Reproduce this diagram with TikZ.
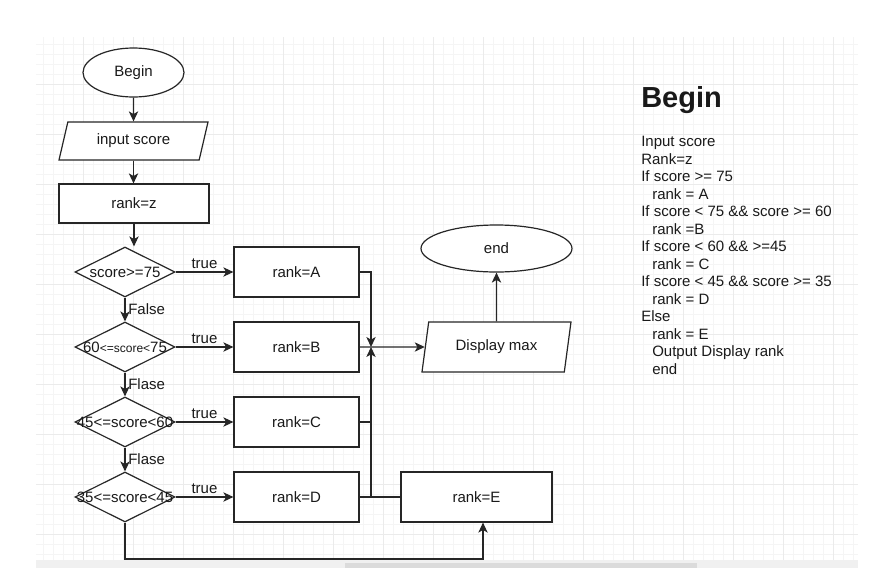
\documentclass[tikz,border=0pt]{standalone}
\usepackage{fontspec}
\setmainfont{Liberation Sans}
\usetikzlibrary{shapes.geometric,arrows.meta}

\tikzset{
  every node/.style={font=\fontsize{11.25}{13.5}\selectfont, text=black!90},
  gridminor/.style={draw=black!4, line width=0.75pt},
  gridmajor/.style={draw=black!8, line width=0.75pt},
  flowline/.style={draw=black!85, line width=0.9pt},
  arr/.style={flowline, -{Stealth[length=7.5pt,width=7pt,inset=2pt]}},
  terminal/.style={ellipse, draw=black!85, line width=0.9pt, fill=white, inner sep=0pt},
  io/.style={trapezium, trapezium stretches body=true, draw=black!85, line width=0.9pt, fill=white, inner sep=0pt},
  process/.style={rectangle, draw=black!85, line width=0.9pt, fill=white, inner sep=0pt, minimum width=93.75pt, minimum height=37.5pt},
  decision/.style={diamond, draw=black!85, line width=0.9pt, fill=white, inner sep=0pt, minimum width=75pt, minimum height=37.5pt},
}

\begin{document}
\begin{tikzpicture}[x=0.75pt,y=0.75pt,yscale=-1,xscale=1]
\useasboundingbox (0,0) rectangle (883,568);

%Grid
\foreach \gx in {43,53,...,853} \draw[gridminor] (\gx,37) -- (\gx,560);
\foreach \gy in {44,54,...,554} \draw[gridminor] (36,\gy) -- (858,\gy);
\foreach \gx in {83,133,...,833} \draw[gridmajor] (\gx,37) -- (\gx,560);
\foreach \gy in {84,134,...,534} \draw[gridmajor] (36,\gy) -- (858,\gy);
%Scroll bar
\fill[black!6] (36,560) rectangle (858,568);
\fill[black!14] (345,563) rectangle (697,568);

% Terminals
\node[terminal, minimum width=75.75pt, minimum height=36.75pt] (begin) at (133.5,72.5) {Begin};
\node[terminal, minimum width=113.25pt, minimum height=35.25pt] (end) at (496.5,248.5) {end};
% Input / Output
\node[io, trapezium left angle=57.7, trapezium right angle=122.3, minimum width=111.75pt, minimum height=28.5pt] (input) at (133.5,141) {input score};
\node[io, trapezium left angle=64.4, trapezium right angle=115.6, minimum width=111.75pt, minimum height=37.5pt] (disp) at (496.5,347) {Display max};
% Process
\node[process, minimum width=112.5pt, minimum height=29.25pt] (rankz) at (134,203.5) {rank=z};
\node[process] (rA) at (296.5,272) {rank=A};
\node[process] (rB) at (296.5,347) {rank=B};
\node[process] (rC) at (296.5,422) {rank=C};
\node[process] (rD) at (296.5,497) {rank=D};
\node[process, minimum width=113.25pt] (rE) at (476.5,497) {rank=E};
% Decisions
\node[decision, label=center:{score>=75}] (dA) at (125,272) {};
\node[decision, label=center:{60{\fontsize{9}{10}\selectfont<=score<}75}] (dB) at (125,347) {};
\node[decision, label=center:{45<=score<60}] (dC) at (125,422) {};
\node[decision, label=center:{35<=score<45}] (dD) at (125,497) {};

\coordinate (j) at (371,347);
\coordinate (eIn) at (483,559);

%Connectors
\draw[arr] (begin) -- (input);
\draw[arr] (input.south) -- (input.south |- rankz.north);
\draw[arr] (rankz.south) -- (rankz.south |- dA.north);
\draw[arr] (dA) -- node[right, inner sep=2pt] {False} (dB);
\draw[arr] (dB) -- node[right, inner sep=2pt] {Flase} (dC);
\draw[arr] (dC) -- node[right, inner sep=2pt] {Flase} (dD);
\draw[arr] (dA) -- node[above, inner sep=2pt] {true} (rA);
\draw[arr] (dB) -- node[above, inner sep=2pt] {true} (rB);
\draw[arr] (dC) -- node[above, inner sep=2pt] {true} (rC);
\draw[arr] (dD) -- node[above, inner sep=2pt] {true} (rD);
\draw[arr] (rA.east) -| (j);
\draw[arr] (rE.west) -| (j);
\draw[flowline] (rC.east) -- (rC.east -| j);
\draw[flowline] (rD.east) -- (rD.east -| j);
\draw[arr] (rB.east) -- (disp);
\draw[arr] (disp) -- (end);
\draw[arr] (dD.south) |- (eIn) -- (eIn |- rE.south);

% Text Node
\node[anchor=base west, inner sep=0pt, font=\bfseries\fontsize{21.75}{26}\selectfont] (title) at (641,107) {Begin};
% Text Node
\node[anchor=north west, inner sep=0pt, align=left, font=\fontsize{11.25}{13.125}\selectfont] (pseudo) at (641,136.3) {Input score\\
Rank=z\\
If score >= 75\\
\hspace*{8.25pt}rank = A\\
If score < 75 \&\& score >= 60\\
\hspace*{8.25pt}rank =B\\
If score < 60 \&\& >=45\\
\hspace*{8.25pt}rank = C\\
If score < 45 \&\& score >= 35\\
\hspace*{8.25pt}rank = D\\
Else\\
\hspace*{8.25pt}rank = E\\
\hspace*{8.25pt}Output Display rank\\
\hspace*{8.25pt}end};

\end{tikzpicture}
\end{document}
